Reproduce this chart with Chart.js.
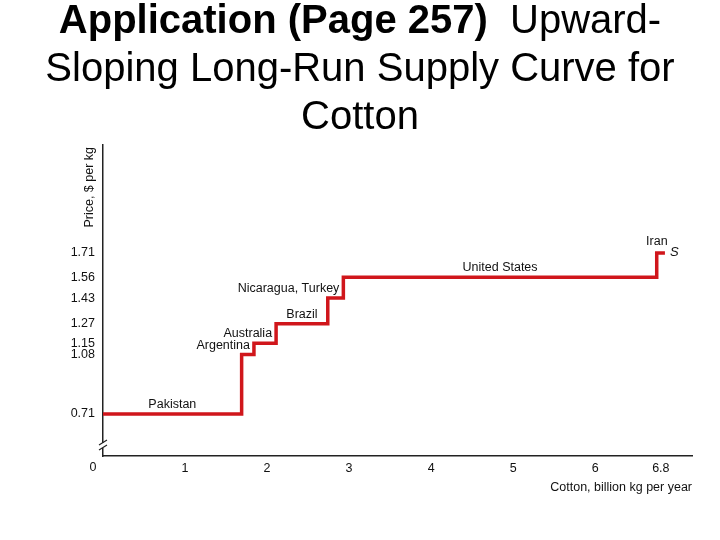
<!DOCTYPE html>
<html lang="en">
<head>
    <meta charset="UTF-8">
    <title>Upward-Sloping Long-Run Supply Curve for Cotton</title>
    <script src="https://cdn.jsdelivr.net/npm/chart.js"></script>
    <style>
        body {
            margin: 0;
            background: #fff;
            font-family: "Liberation Sans", Arial, sans-serif;
        }
        .wrap {
            position: relative;
            width: 720px;
            height: 540px;
        }
        .title {
            position: absolute;
            top: -5px;
            left: 0;
            width: 720px;
            text-align: center;
            font-size: 40px;
            line-height: 48px;
            color: #000;
        }
        canvas {
            position: absolute;
            top: 0;
            left: 0;
        }
    </style>
</head>
<body>
<div class="wrap">
    <canvas id="supply-chart" width="720" height="540"></canvas>
    <div class="title"><b>Application (Page 257)</b>&nbsp; Upward-<br>Sloping Long-Run Supply Curve for<br>Cotton</div>
</div>

<script>
    // producers in order of cost, their price level and the cumulative quantity where each step ends
    const producers = ['Pakistan', 'Argentina', 'Australia', 'Brazil', 'Nicaragua, Turkey', 'United States', 'Iran'];
    const prices = [0.71, 1.08, 1.15, 1.27, 1.43, 1.56, 1.71];
    const quantityEnd = [1.69, 1.84, 2.11, 2.74, 2.93, 6.75, 6.85];
    const xTicks = [0, 1, 2, 3, 4, 5, 6, 6.8];

    // build the step points: each producer starts where the previous one ends
    const points = prices.map((p, i) => ({ x: i === 0 ? 0 : quantityEnd[i - 1], y: p }));
    points.push({ x: quantityEnd[quantityEnd.length - 1], y: prices[prices.length - 1] });

    const FONT = '"Liberation Sans", Arial, sans-serif';
    // labels right-aligned against the end of the step, others centred over it
    const rightAligned = ['Argentina', 'Australia', 'Nicaragua, Turkey'];

    const labelPlugin = {
        id: 'stepLabels',
        afterDatasetsDraw(chart) {
            const ctx = chart.ctx;
            const xs = chart.scales.x, ys = chart.scales.y;
            const area = chart.chartArea;
            ctx.save();
            ctx.fillStyle = '#111';
            ctx.font = '12.5px ' + FONT;
            ctx.textBaseline = 'bottom';
            producers.forEach((name, i) => {
                const x0 = xs.getPixelForValue(i === 0 ? 0 : quantityEnd[i - 1]);
                const x1 = xs.getPixelForValue(quantityEnd[i]);
                const y = ys.getPixelForValue(prices[i]) - 3;
                if (rightAligned.includes(name)) {
                    ctx.textAlign = 'right';
                    ctx.fillText(name, x1 - 4, y);
                } else {
                    ctx.textAlign = 'center';
                    ctx.fillText(name, (x0 + x1) / 2 - (name === 'Iran' ? 4 : 0), y - (name === 'Iran' ? 2 : 0));
                }
            });

            // the "S" marking the supply curve
            const last = points[points.length - 1];
            ctx.font = 'italic 13px ' + FONT;
            ctx.textAlign = 'left';
            ctx.textBaseline = 'middle';
            ctx.fillText('S', xs.getPixelForValue(last.x) + 5, ys.getPixelForValue(last.y) - 1);

            // origin label, set a little left of the broken axis
            ctx.font = '12.5px ' + FONT;
            ctx.textAlign = 'center';
            ctx.fillText('0', area.left - 10, area.bottom + 12);

            // y axis title, sitting at the top next to the axis
            ctx.translate(area.left - 13, area.top + 2);
            ctx.rotate(-Math.PI / 2);
            ctx.textAlign = 'right';
            ctx.textBaseline = 'middle';
            ctx.fillText('Price, $ per kg', 0, 0);
            ctx.restore();

            // axis break mark
            ctx.save();
            const bx = area.left, by = area.bottom - 10;
            ctx.fillStyle = '#fff';
            ctx.fillRect(bx - 3, by - 3, 7, 5);
            ctx.strokeStyle = '#222';
            ctx.lineWidth = 1.2;
            ctx.beginPath();
            ctx.moveTo(bx - 4, by - 1); ctx.lineTo(bx + 4, by - 6);
            ctx.moveTo(bx - 4, by + 4); ctx.lineTo(bx + 4, by - 1);
            ctx.stroke();
            ctx.restore();
        }
    };

    const ctx = document.getElementById('supply-chart').getContext('2d');
    new Chart(ctx, {
        type: 'line',
        data: {
            datasets: [{
                label: 'Supply',
                data: points,
                stepped: 'before',
                borderColor: '#d0161b',
                borderWidth: 3.5,
                pointRadius: 0,
                fill: false
            }]
        },
        options: {
            responsive: false,
            animation: false,
            layout: { padding: { top: 145, right: 28, left: 0, bottom: 0 } },
            plugins: {
                legend: { display: false },
                tooltip: { enabled: false }
            },
            scales: {
                x: {
                    type: 'linear',
                    min: 0,
                    max: 7.18,
                    afterBuildTicks: scale => { scale.ticks = xTicks.map(v => ({ value: v })); },
                    afterFit: scale => { scale.height = 84; },
                    grid: { display: false, drawTicks: false },
                    border: { display: true, color: '#222', width: 1.5 },
                    ticks: {
                        autoSkip: false,
                        maxRotation: 0,
                        padding: 5,
                        color: '#111',
                        font: { family: FONT, size: 12.5 },
                        // the origin "0" is drawn by the plugin
                        callback: v => (v === 0 ? '' : String(v))
                    },
                    title: {
                        display: true,
                        text: 'Cotton, billion kg per year',
                        align: 'end',
                        color: '#111',
                        font: { family: FONT, size: 12.5 },
                        padding: { bottom: 45 }
                    }
                },
                y: {
                    type: 'linear',
                    min: 0.449,
                    max: 2.381,
                    afterBuildTicks: scale => { scale.ticks = prices.map(v => ({ value: v })); },
                    afterFit: scale => { scale.width = 103; },
                    grid: { display: false, drawTicks: false },
                    border: { display: true, color: '#222', width: 1.5 },
                    ticks: {
                        autoSkip: false,
                        padding: 8,
                        color: '#111',
                        font: { family: FONT, size: 12.5 },
                        callback: v => v.toFixed(2)
                    }
                }
            }
        },
        plugins: [labelPlugin]
    });
</script>
</body>
</html>
